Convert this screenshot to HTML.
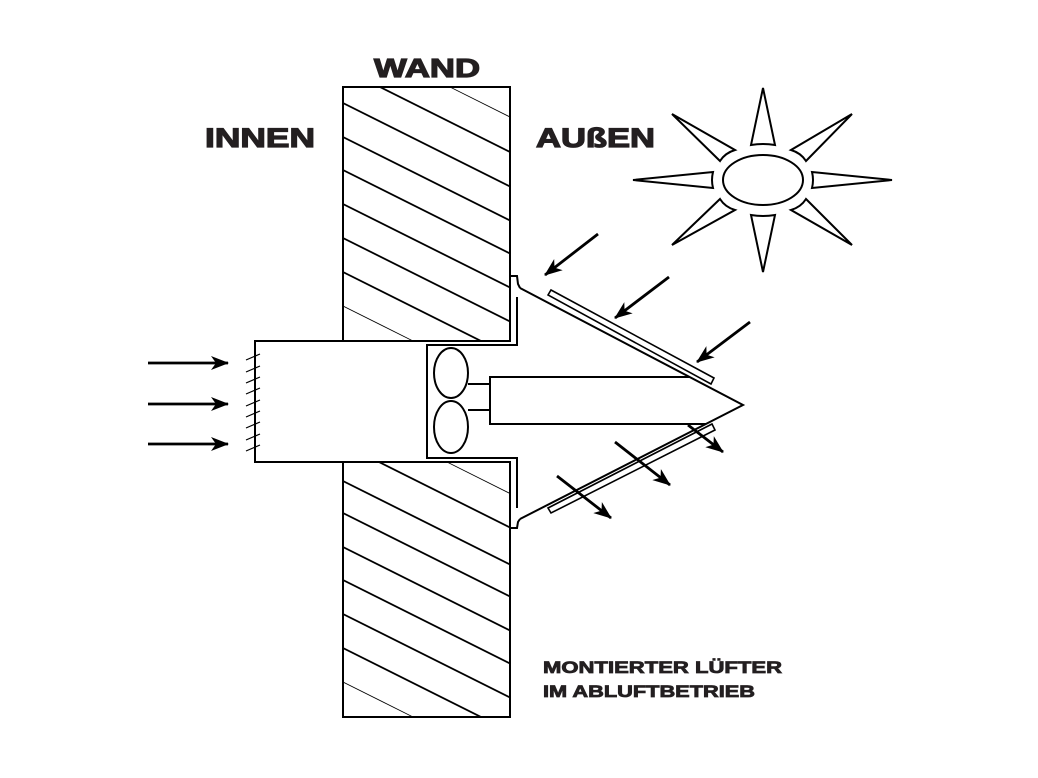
<!DOCTYPE html>
<html><head><meta charset="utf-8"><style>
html,body{margin:0;padding:0;background:#fff;}
svg{display:block;}
text{font-family:"Liberation Sans",sans-serif;font-weight:bold;fill:#231f20;stroke:#231f20;}
</style></head><body>
<svg width="1038" height="778" viewBox="0 0 1038 778" xmlns="http://www.w3.org/2000/svg">
<defs>
<marker id="ah2" markerWidth="18" markerHeight="14" refX="17" refY="7" orient="auto" markerUnits="userSpaceOnUse">
<path d="M0,0 L18,7 L0,14 L5,7 Z" fill="#000"/>
</marker>
<clipPath id="wt"><rect x="343" y="87" width="167" height="254"/></clipPath>
<clipPath id="wb"><rect x="343" y="462" width="167" height="255"/></clipPath>
</defs>

<text x="374" y="77" font-size="26" stroke-width="1.2" textLength="106" lengthAdjust="spacingAndGlyphs">WAND</text>
<text x="205" y="147" font-size="27" stroke-width="1.2" textLength="110" lengthAdjust="spacingAndGlyphs">INNEN</text>
<text x="536" y="147" font-size="27" stroke-width="1.2" textLength="119" lengthAdjust="spacingAndGlyphs">AUßEN</text>
<text x="543" y="673" font-size="17" stroke-width="0.8" textLength="239" lengthAdjust="spacingAndGlyphs">MONTIERTER LÜFTER</text>
<text x="543" y="697" font-size="17" stroke-width="0.8" textLength="212" lengthAdjust="spacingAndGlyphs">IM ABLUFTBETRIEB</text>

<g clip-path="url(#wt)" stroke="#000" stroke-width="1.8">
<line x1="343" y1="33.5" x2="520" y2="122" stroke-width="0.8"/>
<line x1="343" y1="68.5" x2="520" y2="157"/>
<line x1="343" y1="103" x2="520" y2="191.5"/>
<line x1="343" y1="137" x2="520" y2="225.5"/>
<line x1="343" y1="170" x2="520" y2="258.5"/>
<line x1="343" y1="204" x2="520" y2="292.5"/>
<line x1="343" y1="238" x2="520" y2="326.5"/>
<line x1="343" y1="272" x2="520" y2="360.5"/>
<line x1="343" y1="306" x2="520" y2="394.5" stroke-width="0.8"/>
</g>
<g clip-path="url(#wb)" stroke="#000" stroke-width="1.8">
<line x1="343" y1="410" x2="520" y2="498.5" stroke-width="0.8"/>
<line x1="343" y1="444" x2="520" y2="532.5"/>
<line x1="343" y1="481" x2="520" y2="569.5"/>
<line x1="343" y1="513" x2="520" y2="601.5"/>
<line x1="343" y1="547" x2="520" y2="635.5"/>
<line x1="343" y1="580" x2="520" y2="668.5"/>
<line x1="343" y1="614" x2="520" y2="702.5"/>
<line x1="343" y1="648" x2="520" y2="736.5"/>
<line x1="343" y1="682" x2="520" y2="770.5" stroke-width="0.8"/>
</g>

<g fill="none" stroke="#000" stroke-width="2">
<polyline points="343,341 343,87 510,87 510,276"/>
<polyline points="343,462 343,717 510,717 510,528"/>
<polyline points="510,276 517,276 518,284 520,288"/>
<polyline points="510,528 517,528 518,522 520,519"/>
<polyline points="510,276 510,341 255,341 255,462 510,462 510,528"/>
<polyline points="517,297 517,345 427,345 427,458 517,458 517,508"/>
<polyline points="520,288 743,405 520,519"/>
<polygon points="548,295 551,290 714,378 711,384" stroke-width="1.6"/>
<polygon points="548,508 551,513 715,430 712,424" stroke-width="1.6"/>
<ellipse cx="451" cy="373" rx="17" ry="25"/>
<ellipse cx="451" cy="427" rx="17" ry="26"/>
<line x1="468" y1="384" x2="490" y2="384"/>
<line x1="468" y1="410" x2="490" y2="410"/>
<polyline points="690,377 490,377 490,424 706,424"/>
</g>

<g stroke="#000" stroke-width="1.2">
<line x1="246" y1="360" x2="260" y2="354"/>
<line x1="246" y1="372" x2="260" y2="366"/>
<line x1="246" y1="383" x2="260" y2="377"/>
<line x1="246" y1="394" x2="260" y2="388"/>
<line x1="246" y1="406" x2="260" y2="400"/>
<line x1="246" y1="417" x2="260" y2="411"/>
<line x1="246" y1="428" x2="260" y2="422"/>
<line x1="246" y1="440" x2="260" y2="434"/>
<line x1="246" y1="451" x2="260" y2="445"/>
</g>

<g stroke="#000" stroke-width="2.8">
<line x1="148" y1="363" x2="228" y2="363" marker-end="url(#ah2)"/>
<line x1="148" y1="404" x2="228" y2="404" marker-end="url(#ah2)"/>
<line x1="148" y1="444" x2="228" y2="444" marker-end="url(#ah2)"/>
<line x1="598" y1="234" x2="545" y2="275" marker-end="url(#ah2)"/>
<line x1="669" y1="277" x2="615" y2="318" marker-end="url(#ah2)"/>
<line x1="750" y1="322" x2="697" y2="362" marker-end="url(#ah2)"/>
<line x1="688" y1="425" x2="723" y2="452" marker-end="url(#ah2)"/>
<line x1="615" y1="442" x2="670" y2="485" marker-end="url(#ah2)"/>
<line x1="557" y1="476" x2="611" y2="518" marker-end="url(#ah2)"/>
</g>

<g fill="#fff" stroke="#000" stroke-width="2">
<ellipse cx="763" cy="180" rx="40" ry="25"/>
<path d="M763,88 L775,145 Q763,143 751,145 Z"/>
<path d="M763,272 L775,215 Q763,217 751,215 Z"/>
<path d="M633,180 L713,172 Q711,180 713,188 Z"/>
<path d="M892,180 L812,172 Q814,180 812,188 Z"/>
<path d="M672,114 L735,150 Q725,153 720,161 Z"/>
<path d="M852,114 L791,150 Q801,153 806,161 Z"/>
<path d="M672,245 L735,210 Q725,207 720,199 Z"/>
<path d="M852,245 L791,210 Q801,207 806,199 Z"/>
</g>
</svg>
</body></html>
